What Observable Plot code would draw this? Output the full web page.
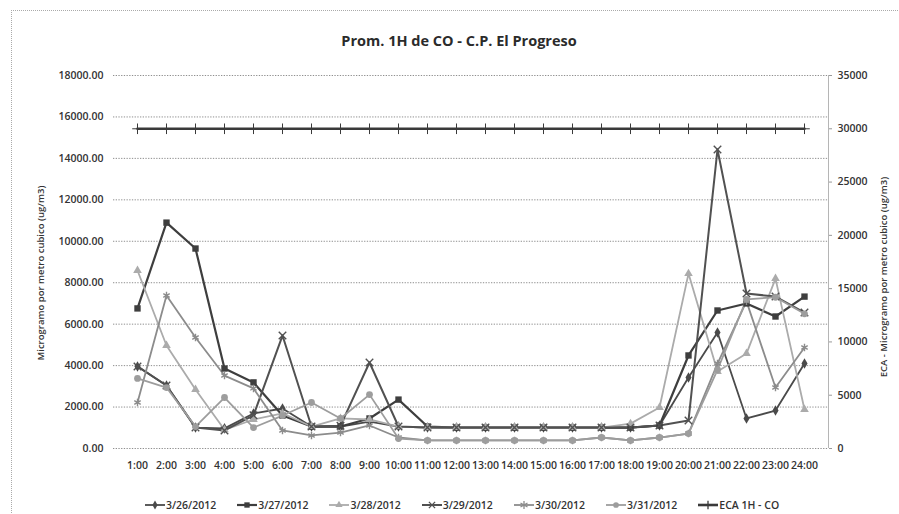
<!DOCTYPE html>
<html><head><meta charset="utf-8">
<script src="https://cdn.jsdelivr.net/npm/d3@7"></script>
<script src="https://cdn.jsdelivr.net/npm/@observablehq/plot@0.6"></script>
<style>
body{margin:0;background:#fff;}
#wrap{position:relative;width:899px;height:514px;overflow:hidden;font-family:"Open Sans",sans-serif;color:#333;background:#fff;}
#border{position:absolute;left:11px;top:10px;width:900px;height:520px;border-top:1px dotted #aaa;border-left:1px dotted #aaa;}
#title{position:absolute;left:0;width:918px;top:31px;text-align:center;font-size:14.5px;font-weight:700;color:#2b2b2b;}
.vlab{position:absolute;font-size:9.5px;font-weight:600;color:#333;white-space:nowrap;transform:translate(-50%,-50%) rotate(-90deg);}
#ylab{left:40px;top:273px;}
#y2lab{left:883px;top:277px;}
#chart{position:absolute;left:0;top:0;}
#raxis{position:absolute;left:828px;top:75px;height:373px;border-left:1px solid #b5b5b5;}
#legend{position:absolute;top:498px;left:145px;display:flex;gap:21px;font-size:10.5px;font-weight:600;color:#333;}
#legend .it{display:flex;align-items:center;gap:1px;}
#legend svg{display:block;}
</style></head><body>
<div id="wrap">
  <div id="border"></div>
  <div id="chart"></div>
  <div id="raxis"></div>
  <div id="title">Prom. 1H de CO - C.P. El Progreso</div>
  <div id="ylab" class="vlab">Microgramo por metro cubico (ug/m3)</div>
  <div id="y2lab" class="vlab">ECA - Microgramo por metro cubico (ug/m3)</div>
  <div id="legend"></div>
</div>
<script>
const hours = ["1:00","2:00","3:00","4:00","5:00","6:00","7:00","8:00","9:00","10:00","11:00","12:00",
  "13:00","14:00","15:00","16:00","17:00","18:00","19:00","20:00","21:00","22:00","23:00","24:00"];

const s0326 = [3960,3040,1010,970,1690,1930,1060,1060,1300,1060,1010,1010,1010,1010,1010,1010,1010,1010,1110,3430,5600,1450,1830,4100];
const s0327 = [6760,10900,9650,3860,3190,1590,1060,1060,1450,2360,1060,1010,1010,1010,1010,1010,1010,1010,1110,4490,6660,7000,6370,7330];
const s0328 = [8590,4970,2850,900,1400,1700,1060,1450,1400,1060,1010,1010,1010,1010,1010,1010,1010,1200,1980,8440,3720,4580,8200,1880];
const s0329 = [3960,3040,1010,870,1600,5450,1060,1100,4150,1060,1010,1010,1010,1010,1010,1010,1010,1010,1110,1350,14430,7480,7330,6560];
const s0330 = [2220,7380,5360,3520,2900,870,630,770,1110,530,390,390,390,390,390,390,530,390,530,720,4100,7100,2940,4870];
const s0331 = [3380,2940,1060,2460,1010,1590,2220,1450,2600,480,390,390,390,390,390,390,530,390,530,720,3800,7200,7300,6500];
const eca1h = [30000,30000,30000,30000,30000,30000,30000,30000,30000,30000,30000,30000,
  30000,30000,30000,30000,30000,30000,30000,30000,30000,30000,30000,30000];

const leftTicks = [0,2000,4000,6000,8000,10000,12000,14000,16000,18000];
const rightTicks = [0,5000,10000,15000,20000,25000,30000,35000];
const leftMax = 18000, rightMax = 35000;
const k = leftMax / rightMax;

const series = [
  {name:"3/26/2012", values:s0326, color:"#4a4a4a", symbol:"diamond", fill:true, r:3.2, w:1.8},
  {name:"3/27/2012", values:s0327, color:"#3e3e3e", symbol:"square", fill:true, r:3.6, w:2.2},
  {name:"3/28/2012", values:s0328, color:"#ababab", symbol:"triangle", fill:true, r:3.2, w:1.8},
  {name:"3/29/2012", values:s0329, color:"#515151", symbol:"times", fill:false, r:3.5, w:2},
  {name:"3/30/2012", values:s0330, color:"#8c8c8c", symbol:"asterisk", fill:false, r:3.5, w:1.8},
  {name:"3/31/2012", values:s0331, color:"#9d9d9d", symbol:"circle", fill:true, r:3.4, w:1.8},
];
const ecaSeries = {name:"ECA 1H - CO", values:eca1h, color:"#3a3a3a", symbol:"plus", fill:false, r:3.5, w:2.6};

const marks = [
  Plot.ruleY(leftTicks, {stroke:"#8f8f8f", strokeDasharray:"1.3,1.4", strokeWidth:1}),
  Plot.axisY(leftTicks, {anchor:"left", tickSize:0, tickPadding:10, tickFormat:d => d.toFixed(2), label:null}),
  Plot.axisY(rightTicks, {anchor:"right", y:d => d * k, tickSize:3, tickPadding:6, tickFormat:d => String(d), label:null, stroke:"#999"}),
  Plot.axisX({tickSize:0, tickPadding:13, label:null}),
];

const ecaRows = hours.map((h,i) => ({hour:h, value:ecaSeries.values[i]}));
marks.push(Plot.line(ecaRows, {x:"hour", y:d => d.value * k, stroke:ecaSeries.color, strokeWidth:ecaSeries.w}));
marks.push(Plot.dot(ecaRows, {x:"hour", y:d => d.value * k, symbol:"plus", stroke:ecaSeries.color, r:ecaSeries.r, strokeWidth:1}));

for (const s of series) {
  const rows = hours.map((h,i) => ({hour:h, value:s.values[i]}));
  marks.push(Plot.line(rows, {x:"hour", y:"value", stroke:s.color, strokeWidth:s.w}));
}
for (const s of series) {
  const rows = hours.map((h,i) => ({hour:h, value:s.values[i]}));
  if (s.fill) marks.push(Plot.dot(rows, {x:"hour", y:"value", symbol:s.symbol, fill:s.color, r:s.r}));
  else marks.push(Plot.dot(rows, {x:"hour", y:"value", symbol:s.symbol, stroke:s.color, r:s.r, strokeWidth:1.4}));
}

const chart = Plot.plot({
  width: 899, height: 514,
  marginLeft: 113, marginRight: 71, marginTop: 75, marginBottom: 66,
  style: {fontFamily:"Open Sans, sans-serif", fontSize:"10.5px", fontWeight:600, color:"#333", background:"transparent", overflow:"visible"},
  x: {type:"point", domain:hours, padding:0.5, label:null},
  y: {domain:[0, leftMax], label:null},
  marks
});
document.getElementById("chart").appendChild(chart);

// legend
const legend = document.getElementById("legend");
const asteriskPath = "M0,-4V4M-3.5,-2L3.5,2M-3.5,2L3.5,-2";
const symMap = {diamond:d3.symbolDiamond, square:d3.symbolSquare, triangle:d3.symbolTriangle,
  times:d3.symbolTimes || d3.symbolCross, circle:d3.symbolCircle, plus:d3.symbolPlus || d3.symbolCross};
for (const s of [...series, ecaSeries]) {
  const it = document.createElement("div"); it.className = "it";
  const sz = s.r * s.r * Math.PI * 0.7;
  const path = s.symbol === "asterisk" ? asteriskPath : d3.symbol(symMap[s.symbol], sz)();
  it.innerHTML = `<svg width="20" height="10"><line x1="0" x2="20" y1="5" y2="5" stroke="${s.color}" stroke-width="${s.w}"/>` +
    `<path d="${path}" transform="translate(10,5)" fill="${s.fill ? s.color : "none"}" stroke="${s.fill ? "none" : s.color}" stroke-width="1.3"/></svg>` +
    `<span>${s.name}</span>`;
  legend.appendChild(it);
}
</script>
</body></html>
